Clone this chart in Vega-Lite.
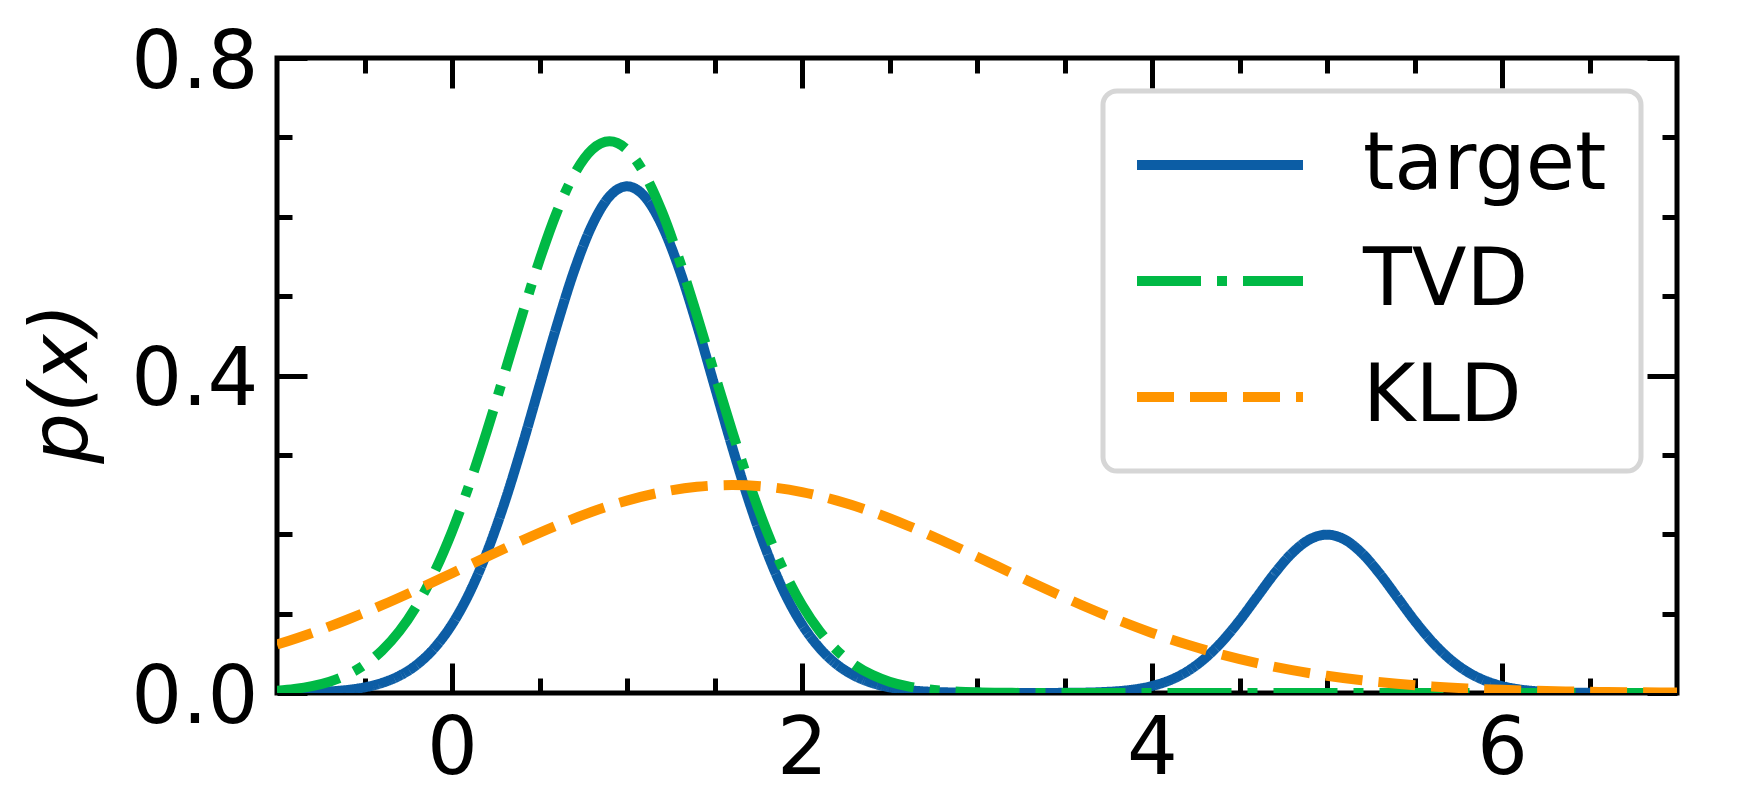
{
  "$schema": "https://vega.github.io/schema/vega-lite/v6.json",
  "width": 1400,
  "height": 635,
  "autosize": "none",
  "padding": {"left": 277, "top": 58, "right": 61, "bottom": 119},
  "background": "white",
  "config": {"view": {"stroke": "black", "strokeWidth": 5}, "font": "DejaVu Sans"},
  "datasets": {
    "curves": [
      {"x": -1, "s": "target", "p": 0.0002}, {"x": -0.9, "s": "target", "p": 0.0005}, {"x": -0.8, "s": "target", "p": 0.001}, {"x": -0.7, "s": "target", "p": 0.002}, {"x": -0.6, "s": "target", "p": 0.0038}, {"x": -0.5, "s": "target", "p": 0.0071}, {"x": -0.4, "s": "target", "p": 0.0127}, {"x": -0.3, "s": "target", "p": 0.0217}, {"x": -0.2, "s": "target", "p": 0.0358}, {"x": -0.1, "s": "target", "p": 0.0568},
      {"x": 0, "s": "target", "p": 0.0864}, {"x": 0.1, "s": "target", "p": 0.1263}, {"x": 0.2, "s": "target", "p": 0.1775}, {"x": 0.3, "s": "target", "p": 0.2396}, {"x": 0.4, "s": "target", "p": 0.3107}, {"x": 0.5, "s": "target", "p": 0.3871}, {"x": 0.6, "s": "target", "p": 0.4635}, {"x": 0.7, "s": "target", "p": 0.5332}, {"x": 0.8, "s": "target", "p": 0.5892}, {"x": 0.9, "s": "target", "p": 0.6257},
      {"x": 1, "s": "target", "p": 0.6383}, {"x": 1.1, "s": "target", "p": 0.6257}, {"x": 1.2, "s": "target", "p": 0.5892}, {"x": 1.3, "s": "target", "p": 0.5332}, {"x": 1.4, "s": "target", "p": 0.4635}, {"x": 1.5, "s": "target", "p": 0.3871}, {"x": 1.6, "s": "target", "p": 0.3107}, {"x": 1.7, "s": "target", "p": 0.2396}, {"x": 1.8, "s": "target", "p": 0.1775}, {"x": 1.9, "s": "target", "p": 0.1263},
      {"x": 2, "s": "target", "p": 0.0864}, {"x": 2.1, "s": "target", "p": 0.0568}, {"x": 2.2, "s": "target", "p": 0.0358}, {"x": 2.3, "s": "target", "p": 0.0217}, {"x": 2.4, "s": "target", "p": 0.0127}, {"x": 2.5, "s": "target", "p": 0.0071}, {"x": 2.6, "s": "target", "p": 0.0038}, {"x": 2.7, "s": "target", "p": 0.002}, {"x": 2.8, "s": "target", "p": 0.001}, {"x": 2.9, "s": "target", "p": 0.0005},
      {"x": 3, "s": "target", "p": 0.0002}, {"x": 3.2, "s": "target", "p": 0}, {"x": 3.4, "s": "target", "p": 0.0001}, {"x": 3.5, "s": "target", "p": 0.0002}, {"x": 3.6, "s": "target", "p": 0.0004}, {"x": 3.7, "s": "target", "p": 0.001}, {"x": 3.8, "s": "target", "p": 0.0022}, {"x": 3.9, "s": "target", "p": 0.0045},
      {"x": 4, "s": "target", "p": 0.0088}, {"x": 4.1, "s": "target", "p": 0.0159}, {"x": 4.2, "s": "target", "p": 0.027}, {"x": 4.3, "s": "target", "p": 0.0432}, {"x": 4.4, "s": "target", "p": 0.0648}, {"x": 4.5, "s": "target", "p": 0.0913}, {"x": 4.6, "s": "target", "p": 0.121}, {"x": 4.7, "s": "target", "p": 0.1506}, {"x": 4.8, "s": "target", "p": 0.1761}, {"x": 4.9, "s": "target", "p": 0.1934},
      {"x": 5, "s": "target", "p": 0.1995}, {"x": 5.1, "s": "target", "p": 0.1934}, {"x": 5.2, "s": "target", "p": 0.1761}, {"x": 5.3, "s": "target", "p": 0.1506}, {"x": 5.4, "s": "target", "p": 0.121}, {"x": 5.5, "s": "target", "p": 0.0913}, {"x": 5.6, "s": "target", "p": 0.0648}, {"x": 5.7, "s": "target", "p": 0.0432}, {"x": 5.8, "s": "target", "p": 0.027}, {"x": 5.9, "s": "target", "p": 0.0159},
      {"x": 6, "s": "target", "p": 0.0088}, {"x": 6.1, "s": "target", "p": 0.0045}, {"x": 6.2, "s": "target", "p": 0.0022}, {"x": 6.3, "s": "target", "p": 0.001}, {"x": 6.4, "s": "target", "p": 0.0004}, {"x": 6.5, "s": "target", "p": 0.0002}, {"x": 6.7, "s": "target", "p": 0}, {"x": 7, "s": "target", "p": 0},

      {"x": -1, "s": "TVD", "p": 0.0029}, {"x": -0.9, "s": "TVD", "p": 0.0051}, {"x": -0.8, "s": "TVD", "p": 0.0087}, {"x": -0.7, "s": "TVD", "p": 0.0143}, {"x": -0.6, "s": "TVD", "p": 0.0229}, {"x": -0.5, "s": "TVD", "p": 0.0355}, {"x": -0.4, "s": "TVD", "p": 0.0535}, {"x": -0.3, "s": "TVD", "p": 0.0781}, {"x": -0.2, "s": "TVD", "p": 0.1108}, {"x": -0.1, "s": "TVD", "p": 0.1524},
      {"x": 0, "s": "TVD", "p": 0.2033}, {"x": 0.1, "s": "TVD", "p": 0.2632}, {"x": 0.2, "s": "TVD", "p": 0.3304}, {"x": 0.3, "s": "TVD", "p": 0.4025}, {"x": 0.4, "s": "TVD", "p": 0.4756}, {"x": 0.5, "s": "TVD", "p": 0.5452}, {"x": 0.6, "s": "TVD", "p": 0.6063}, {"x": 0.7, "s": "TVD", "p": 0.6541}, {"x": 0.8, "s": "TVD", "p": 0.6845}, {"x": 0.9, "s": "TVD", "p": 0.695},
      {"x": 1, "s": "TVD", "p": 0.6845}, {"x": 1.1, "s": "TVD", "p": 0.6541}, {"x": 1.2, "s": "TVD", "p": 0.6063}, {"x": 1.3, "s": "TVD", "p": 0.5452}, {"x": 1.4, "s": "TVD", "p": 0.4756}, {"x": 1.5, "s": "TVD", "p": 0.4025}, {"x": 1.6, "s": "TVD", "p": 0.3304}, {"x": 1.7, "s": "TVD", "p": 0.2632}, {"x": 1.8, "s": "TVD", "p": 0.2033}, {"x": 1.9, "s": "TVD", "p": 0.1524},
      {"x": 2, "s": "TVD", "p": 0.1108}, {"x": 2.1, "s": "TVD", "p": 0.0781}, {"x": 2.2, "s": "TVD", "p": 0.0535}, {"x": 2.3, "s": "TVD", "p": 0.0355}, {"x": 2.4, "s": "TVD", "p": 0.0229}, {"x": 2.5, "s": "TVD", "p": 0.0143}, {"x": 2.6, "s": "TVD", "p": 0.0087}, {"x": 2.7, "s": "TVD", "p": 0.0051}, {"x": 2.8, "s": "TVD", "p": 0.0029}, {"x": 2.9, "s": "TVD", "p": 0.0016},
      {"x": 3, "s": "TVD", "p": 0.0009}, {"x": 3.1, "s": "TVD", "p": 0.0004}, {"x": 3.2, "s": "TVD", "p": 0.0002}, {"x": 3.4, "s": "TVD", "p": 0}, {"x": 4, "s": "TVD", "p": 0}, {"x": 5, "s": "TVD", "p": 0}, {"x": 6, "s": "TVD", "p": 0}, {"x": 7, "s": "TVD", "p": 0},

      {"x": -1, "s": "KLD", "p": 0.061}, {"x": -0.8, "s": "KLD", "p": 0.0757}, {"x": -0.6, "s": "KLD", "p": 0.0923}, {"x": -0.4, "s": "KLD", "p": 0.1106}, {"x": -0.2, "s": "KLD", "p": 0.1303}, {"x": 0, "s": "KLD", "p": 0.1509}, {"x": 0.2, "s": "KLD", "p": 0.1717}, {"x": 0.4, "s": "KLD", "p": 0.1921}, {"x": 0.6, "s": "KLD", "p": 0.2112}, {"x": 0.8, "s": "KLD", "p": 0.2283},
      {"x": 1, "s": "KLD", "p": 0.2424}, {"x": 1.2, "s": "KLD", "p": 0.2531}, {"x": 1.4, "s": "KLD", "p": 0.2598}, {"x": 1.6, "s": "KLD", "p": 0.262}, {"x": 1.8, "s": "KLD", "p": 0.2598}, {"x": 2, "s": "KLD", "p": 0.2531}, {"x": 2.2, "s": "KLD", "p": 0.2424}, {"x": 2.4, "s": "KLD", "p": 0.2283}, {"x": 2.6, "s": "KLD", "p": 0.2112}, {"x": 2.8, "s": "KLD", "p": 0.1921},
      {"x": 3, "s": "KLD", "p": 0.1717}, {"x": 3.2, "s": "KLD", "p": 0.1509}, {"x": 3.4, "s": "KLD", "p": 0.1303}, {"x": 3.6, "s": "KLD", "p": 0.1106}, {"x": 3.8, "s": "KLD", "p": 0.0923}, {"x": 4, "s": "KLD", "p": 0.0757}, {"x": 4.2, "s": "KLD", "p": 0.061}, {"x": 4.4, "s": "KLD", "p": 0.0484}, {"x": 4.6, "s": "KLD", "p": 0.0377}, {"x": 4.8, "s": "KLD", "p": 0.0288},
      {"x": 5, "s": "KLD", "p": 0.0217}, {"x": 5.2, "s": "KLD", "p": 0.016}, {"x": 5.4, "s": "KLD", "p": 0.0117}, {"x": 5.6, "s": "KLD", "p": 0.0083}, {"x": 5.8, "s": "KLD", "p": 0.0058}, {"x": 6, "s": "KLD", "p": 0.004}, {"x": 6.2, "s": "KLD", "p": 0.0027}, {"x": 6.4, "s": "KLD", "p": 0.0018}, {"x": 6.6, "s": "KLD", "p": 0.0012}, {"x": 6.8, "s": "KLD", "p": 0.0008}, {"x": 7, "s": "KLD", "p": 0.0005}
    ],
    "anchor": [{"x": 0, "p": 0}]
  },
  "layer": [
    {
      "data": {"name": "curves"},
      "transform": [{"filter": "datum.s === 'target'"}],
      "mark": {"type": "line", "strokeWidth": 10, "interpolate": "monotone", "clip": true},
      "encoding": {
        "x": {"field": "x", "type": "quantitative", "scale": {"domain": [-1, 7], "nice": false, "zero": false},
          "axis": {"orient": "bottom", "values": [0, 2, 4, 6], "format": "d", "tickSize": -30, "tickWidth": 5, "tickColor": "black", "domain": false, "grid": false, "labelPadding": 47, "labelFontSize": 80, "labelFont": "DejaVu Sans", "labelColor": "black", "labelFlush": false, "labelOverlap": false, "title": null}},
        "y": {"field": "p", "type": "quantitative", "scale": {"domain": [0, 0.8], "nice": false, "zero": false},
          "axis": {"orient": "left", "values": [0, 0.4, 0.8], "format": ".1f", "tickSize": -30, "tickWidth": 5, "tickColor": "black", "domain": false, "grid": false, "labelPadding": 49, "labelOffset": 5, "labelFontSize": 80, "labelFont": "DejaVu Sans", "labelColor": "black", "labelFlush": false, "labelOverlap": false,
            "title": "p(x)", "titleFont": "DejaVu Sans", "titleFontSize": 80, "titleFontStyle": "italic", "titleFontWeight": "normal", "titleColor": "black", "titleAngle": -90, "titleAlign": "center", "titleBaseline": "alphabetic", "titleX": -191, "titleY": 325}},
        "color": {"field": "s", "type": "nominal", "scale": {"domain": ["target", "TVD", "KLD"], "range": ["#0C5DA5", "#00B945", "#FF9500"]},
          "legend": {"title": null, "orient": "none", "legendX": 826, "legendY": 33, "symbolType": "M-4,0H4", "symbolSize": 1722, "symbolStrokeWidth": 10, "symbolOffset": 43, "labelFontSize": 80, "labelFont": "DejaVu Sans", "labelColor": "black", "labelOffset": 103, "labelLimit": 1000, "rowPadding": 36, "padding": 34, "fillColor": "white", "strokeColor": "#d6d6d6", "cornerRadius": 14,
            "encode": {"legend": {"update": {"strokeWidth": {"value": 5}}}}}},
        "strokeDash": {"field": "s", "type": "nominal", "scale": {"domain": ["target", "TVD", "KLD"], "range": [[1, 0], [64, 16, 10, 16], [37, 16]]},
          "legend": {"title": null, "orient": "none", "legendX": 826, "legendY": 33, "symbolType": "M-4,0H4", "symbolSize": 1722, "symbolStrokeWidth": 10, "symbolOffset": 43, "labelFontSize": 80, "labelFont": "DejaVu Sans", "labelColor": "black", "labelOffset": 103, "labelLimit": 1000, "rowPadding": 36, "padding": 34, "fillColor": "white", "strokeColor": "#d6d6d6", "cornerRadius": 14,
            "encode": {"legend": {"update": {"strokeWidth": {"value": 5}}}}}}
      }
    },
    {
      "data": {"name": "curves"},
      "transform": [{"filter": "datum.s === 'TVD'"}],
      "mark": {"type": "line", "strokeWidth": 10, "interpolate": "monotone", "clip": true},
      "encoding": {
        "x": {"field": "x", "type": "quantitative", "scale": {"domain": [-1, 7], "nice": false, "zero": false},
          "axis": {"orient": "bottom", "values": [-0.5, 0.5, 1, 1.5, 2.5, 3, 3.5, 4.5, 5, 5.5, 6.5], "tickSize": -15, "tickWidth": 5, "tickColor": "black", "domain": false, "grid": false, "labels": false, "title": null}},
        "y": {"field": "p", "type": "quantitative", "scale": {"domain": [0, 0.8], "nice": false, "zero": false},
          "axis": {"orient": "left", "values": [0.1, 0.2, 0.3, 0.5, 0.6, 0.7], "tickSize": -15, "tickWidth": 5, "tickColor": "black", "domain": false, "grid": false, "labels": false, "title": null}},
        "color": {"field": "s", "type": "nominal", "scale": {"domain": ["target", "TVD", "KLD"], "range": ["#0C5DA5", "#00B945", "#FF9500"]}},
        "strokeDash": {"field": "s", "type": "nominal", "scale": {"domain": ["target", "TVD", "KLD"], "range": [[1, 0], [64, 16, 10, 16], [37, 16]]}}
      }
    },
    {
      "data": {"name": "curves"},
      "transform": [{"filter": "datum.s === 'KLD'"}],
      "mark": {"type": "line", "strokeWidth": 10, "interpolate": "monotone", "clip": true},
      "encoding": {
        "x": {"field": "x", "type": "quantitative", "scale": {"domain": [-1, 7], "nice": false, "zero": false},
          "axis": {"orient": "top", "values": [0, 2, 4, 6], "tickSize": -30, "tickWidth": 5, "tickColor": "black", "domain": false, "grid": false, "labels": false, "title": null}},
        "y": {"field": "p", "type": "quantitative", "scale": {"domain": [0, 0.8], "nice": false, "zero": false},
          "axis": {"orient": "right", "values": [0, 0.4, 0.8], "tickSize": -30, "tickWidth": 5, "tickColor": "black", "domain": false, "grid": false, "labels": false, "title": null}},
        "color": {"field": "s", "type": "nominal", "scale": {"domain": ["target", "TVD", "KLD"], "range": ["#0C5DA5", "#00B945", "#FF9500"]}},
        "strokeDash": {"field": "s", "type": "nominal", "scale": {"domain": ["target", "TVD", "KLD"], "range": [[1, 0], [64, 16, 10, 16], [37, 16]]}}
      }
    },
    {
      "data": {"name": "anchor"},
      "mark": {"type": "point", "opacity": 0},
      "encoding": {
        "x": {"field": "x", "type": "quantitative", "scale": {"domain": [-1, 7], "nice": false, "zero": false},
          "axis": {"orient": "top", "values": [-0.5, 0.5, 1, 1.5, 2.5, 3, 3.5, 4.5, 5, 5.5, 6.5], "tickSize": -15, "tickWidth": 5, "tickColor": "black", "domain": false, "grid": false, "labels": false, "title": null}},
        "y": {"field": "p", "type": "quantitative", "scale": {"domain": [0, 0.8], "nice": false, "zero": false},
          "axis": {"orient": "right", "values": [0.1, 0.2, 0.3, 0.5, 0.6, 0.7], "tickSize": -15, "tickWidth": 5, "tickColor": "black", "domain": false, "grid": false, "labels": false, "title": null}}
      }
    }
  ],
  "resolve": {"axis": {"x": "independent", "y": "independent"}}
}
